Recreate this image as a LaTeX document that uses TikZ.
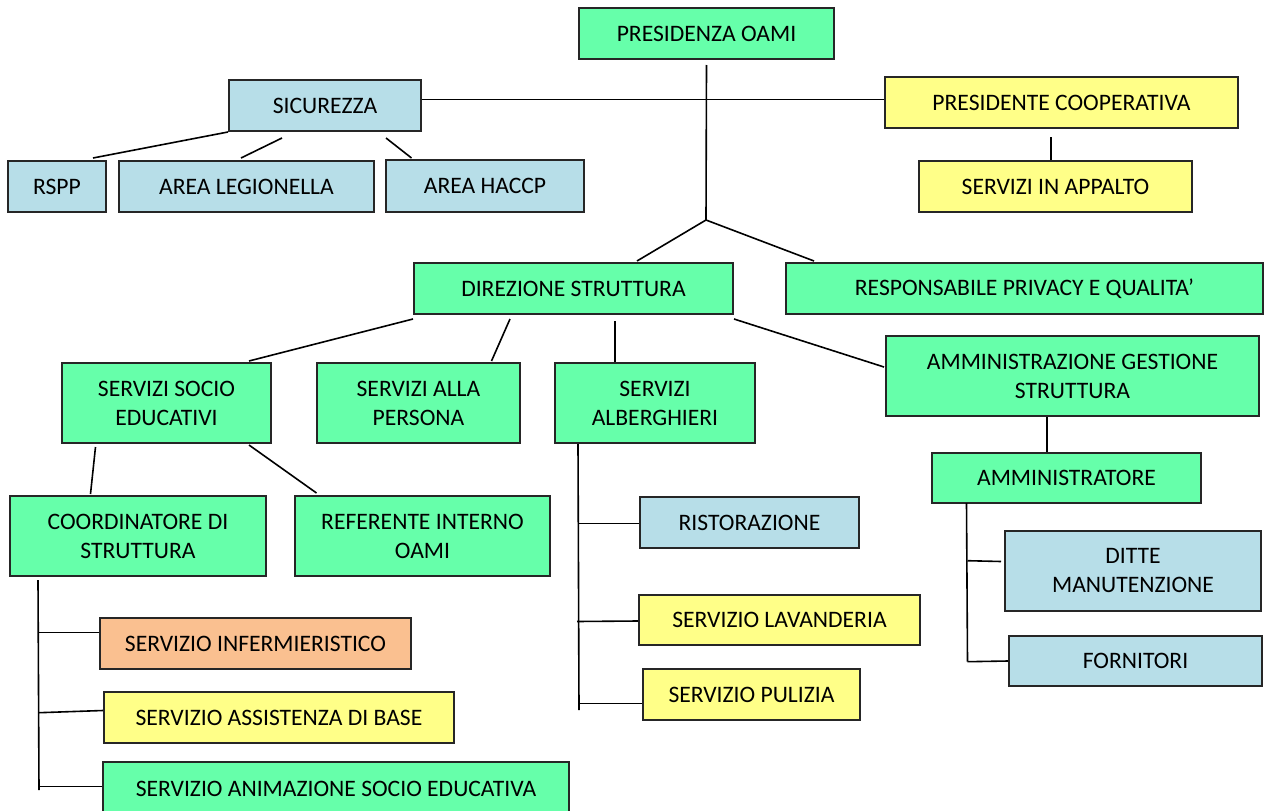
\documentclass[tikz,border=0pt]{standalone}
\usepackage{fontspec}
\setmainfont{Carlito}

\definecolor{colverde}{HTML}{66FFAA}
\definecolor{colazzurro}{HTML}{B7DEE8}
\definecolor{colgiallo}{HTML}{FFFF88}
\definecolor{colarancio}{HTML}{FAC090}

\begin{document}
\begin{tikzpicture}[x=1pt, y=-1pt,
    box/.style={draw=black!85, line width=2pt, inner sep=0pt, align=center, font=\fontsize{23.6}{29}\selectfont},
    boxverde/.style={box, fill=colverde},
    boxazzurro/.style={box, fill=colazzurro},
    boxgiallo/.style={box, fill=colgiallo},
    boxarancio/.style={box, fill=colarancio},
    linea/.style={line width=1.6pt}]
    \useasboundingbox (0,0) rectangle (1264,811);

    % Presidenza
    \node[boxverde, minimum width=255, minimum height=51] (presidenza) at (706.5,33.5) {PRESIDENZA OAMI};
    \coordinate (hub) at (706,220);

    % Sicurezza
    \node[boxazzurro, minimum width=192, minimum height=51] (sicurezza) at (325,105.5) {SICUREZZA};
    \node[boxazzurro, minimum width=98, minimum height=51] (rspp) at (57,186.5) {RSPP};
    \node[boxazzurro, minimum width=255, minimum height=51] (legionella) at (246.5,186.5) {AREA LEGIONELLA};
    \node[boxazzurro, minimum width=198, minimum height=52] (haccp) at (485,186) {AREA HACCP};

    % Cooperativa
    \node[boxgiallo, minimum width=353, minimum height=51] (presidente) at (1061.5,102.5) {PRESIDENTE COOPERATIVA};
    \node[boxgiallo, minimum width=273, minimum height=51] (appalto) at (1055.5,186.5) {SERVIZI IN APPALTO};

    % Direzione
    \node[boxverde, minimum width=319, minimum height=51] (direzione) at (573.5,288.5) {DIREZIONE STRUTTURA};
    \node[boxverde, minimum width=477, minimum height=51] (privacy) at (1024.5,288.5) {RESPONSABILE PRIVACY E QUALITA’};

    % Servizi
    \node[boxverde, minimum width=209, minimum height=80] (socio) at (166.5,403) {SERVIZI SOCIO\\EDUCATIVI};
    \node[boxverde, minimum width=203, minimum height=80] (persona) at (418.5,403) {SERVIZI ALLA\\PERSONA};
    \node[boxverde, minimum width=200, minimum height=80] (alberghieri) at (655,403) {SERVIZI\\ALBERGHIERI};
    \node[boxverde, minimum width=373, minimum height=80] (amministrazione) at (1072.5,376) {AMMINISTRAZIONE GESTIONE\\STRUTTURA};
    \node[boxverde, minimum width=269, minimum height=50] (amministratore) at (1066.5,478) {AMMINISTRATORE};

    % Socio educativi
    \node[boxverde, minimum width=256, minimum height=80] (coordinatore) at (138,536) {COORDINATORE DI\\STRUTTURA};
    \node[boxverde, minimum width=255, minimum height=80] (referente) at (422.5,536) {REFERENTE INTERNO\\OAMI};
    \node[boxarancio, minimum width=311, minimum height=51] (infermieristico) at (255.5,643.5) {SERVIZIO INFERMIERISTICO};
    \node[boxgiallo, minimum width=350, minimum height=51] (assistenza) at (279,717.5) {SERVIZIO ASSISTENZA DI BASE};
    \node[boxverde, minimum width=466, minimum height=53] (animazione) at (336,788.5) {SERVIZIO ANIMAZIONE SOCIO EDUCATIVA};

    % Alberghieri
    \node[boxazzurro, minimum width=219, minimum height=51] (ristorazione) at (749.5,522.5) {RISTORAZIONE};
    \node[boxgiallo, minimum width=281, minimum height=50] (lavanderia) at (779.5,620) {SERVIZIO LAVANDERIA};
    \node[boxgiallo, minimum width=217, minimum height=51] (pulizia) at (751.5,694.5) {SERVIZIO PULIZIA};

    % Amministratore
    \node[boxazzurro, minimum width=256, minimum height=80] (ditte) at (1133,571) {DITTE\\MANUTENZIONE};
    \node[boxazzurro, minimum width=253, minimum height=50] (fornitori) at (1135.5,661) {FORNITORI};

    % Punti delle linee verticali
    \coordinate (c1) at (39,632.5);
    \coordinate (c2) at (39,712.7);
    \coordinate (c3) at (39,786.5);
    \coordinate (cfine) at (39,790);
    \coordinate (a1) at (579,523.5);
    \coordinate (a2) at (577,621.5);
    \coordinate (a3) at (579,703.5);
    \coordinate (afine) at (579,710);
    \coordinate (m1) at (967.5,560.7);
    \coordinate (m2) at (967.5,661.7);

    % Collegamenti in alto
    \draw[linea] ([yshift=-5]presidenza.south) -- (hub);
    \draw[linea] ([yshift=6]sicurezza.east) -- ([yshift=3]presidente.west);
    \draw[linea] (hub) -- ([xshift=63.5,yshift=1]direzione.north);
    \draw[linea] (hub) -- ([xshift=29,yshift=1]privacy.north west);
    \draw[linea] (sicurezza.south west) -- ([xshift=-14,yshift=2]rspp.north east);
    \draw[linea] ([xshift=-43,yshift=-6]sicurezza.south) -- ([xshift=-5.5,yshift=2]legionella.north);
    \draw[linea] ([xshift=61,yshift=-6]sicurezza.south) -- ([xshift=26.5,yshift=1]haccp.north west);
    \draw[linea] ([xshift=-10.5,yshift=-8]presidente.south) -- ([xshift=-4.5]appalto.north);

    % Collegamenti della direzione
    \draw[linea] ([yshift=-4]direzione.south west) -- ([xshift=-23,yshift=1]socio.north east);
    \draw[linea] ([xshift=97,yshift=-4]direzione.south west) -- ([xshift=-29.5,yshift=1]persona.north east);
    \draw[linea] ([xshift=41.5,yshift=-6]direzione.south) -- ([xshift=-40]alberghieri.north);
    \draw[linea] ([yshift=-4]direzione.south east) -- ([xshift=-1,yshift=9]amministrazione.west);
    \draw[linea] ([xshift=-25.5]amministrazione.south) -- ([xshift=-19.5]amministratore.north);

    % Socio educativi
    \draw[linea] ([xshift=34.5,yshift=-3]socio.south west) -- ([xshift=-47.5,yshift=1]coordinatore.north);
    \draw[linea] ([xshift=-23,yshift=-1]socio.south east) -- ([xshift=22.5,yshift=2]referente.north west);
    \draw[linea] ([xshift=29,yshift=-3]coordinatore.south west) -- (cfine);
    \draw[linea] (c1) -- ([yshift=11]infermieristico.west);
    \draw[linea] (c2) -- ([yshift=7]assistenza.west);
    \draw[linea] (c3) -- ([yshift=2]animazione.west);

    % Alberghieri
    \draw[linea] ([xshift=24]alberghieri.south west) -- (afine);
    \draw[linea] (a1) -- ([yshift=-1]ristorazione.west);
    \draw[linea] (a2) -- ([yshift=-1]lavanderia.west);
    \draw[linea] (a3) -- ([yshift=-9]pulizia.west);

    % Amministratore
    \draw[linea] ([xshift=35.5,yshift=1]amministratore.south west) -- (m2);
    \draw[linea] (m1) -- ([xshift=-3,yshift=9.5]ditte.west);
    \draw[linea] (m2) -- (fornitori.west);
\end{tikzpicture}
\end{document}
